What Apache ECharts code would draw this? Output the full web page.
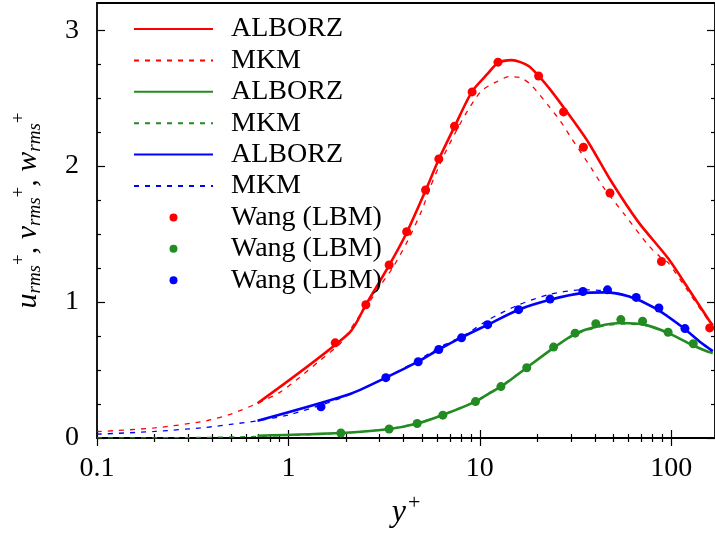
<!DOCTYPE html>
<html><head><meta charset="utf-8">
<script src="https://cdn.jsdelivr.net/npm/echarts@6/dist/echarts.min.js"></script>
<style>html,body{margin:0;padding:0;background:#fff}#c{width:715px;height:534px}</style>
</head><body><div id="c"></div>
<script>
// ---- tick labels ----
const xTickValues = [0.1, 1, 10, 100];
const xTickLabels = ['0.1', '1', '10', '100'];
const yTickValues = [0, 1, 2, 3];
const yTickLabels = ['0', '1', '2', '3'];

// ---- ALBORZ (solid) ----
const uAlborzX = [0.69, 2.08, 2.54, 3.36, 4.15, 5.21, 6.11, 7.38, 9.12, 11.0, 12.45, 14.7, 18.0, 22.9, 29.1, 36.9, 48.9, 67.3, 96.4, 122.6, 159, 165];
const uAlborzY = [0.256, 0.773, 0.98, 1.27, 1.51, 1.82, 2.05, 2.29, 2.55, 2.68, 2.76, 2.78, 2.736, 2.578, 2.383, 2.176, 1.883, 1.590, 1.322, 1.102, 0.859, 0.83];
const vAlborzX = [0.69, 1.88, 3.36, 4.71, 6.36, 9.50, 11.1, 13.1, 17.6, 24.3, 31.5, 41.6, 55.2, 72.6, 96.4, 127.3, 155.9, 165];
const vAlborzY = [0.017, 0.037, 0.066, 0.107, 0.168, 0.268, 0.325, 0.383, 0.517, 0.663, 0.766, 0.822, 0.846, 0.834, 0.773, 0.688, 0.634, 0.625];
const wAlborzX = [0.69, 2.08, 3.23, 4.81, 6.11, 8.09, 11.1, 15.96, 23.3, 34.2, 45.0, 59.8, 82.4, 113, 143.5, 165];
const wAlborzY = [0.127, 0.322, 0.444, 0.566, 0.651, 0.742, 0.836, 0.944, 1.017, 1.066, 1.071, 1.042, 0.956, 0.822, 0.70, 0.639];

// ---- MKM (dashed) ----
const uMkmX = [0.1, 0.2, 0.37, 0.51, 0.69, 0.898, 1.14, 1.45, 1.88, 2.25, 2.70, 3.04, 3.5, 4.2, 5.0, 5.47, 6.49, 7.71, 8.95, 10.28, 12.3, 14.2, 16.3, 18.4, 22.9, 26.3, 30.3, 38.5, 44.2, 57.4, 75.9, 87.3, 96.4, 122.6, 159, 165];
const uMkmY = [0.047, 0.074, 0.126, 0.18, 0.256, 0.334, 0.444, 0.566, 0.700, 0.859, 1.017, 1.127, 1.25, 1.45, 1.68, 1.834, 2.078, 2.285, 2.443, 2.558, 2.622, 2.658, 2.651, 2.602, 2.443, 2.334, 2.2, 1.98, 1.846, 1.639, 1.419, 1.334, 1.29, 1.08, 0.85, 0.82];
const vMkmX = [0.1, 0.3, 0.69, 1.88, 3.36, 4.71, 6.36, 9.5, 13.1, 17.6, 24.3, 31.5, 41.6, 55.2, 72.6, 96.4, 127.3, 155.9, 165];
const vMkmY = [0.0005, 0.003, 0.012, 0.035, 0.068, 0.11, 0.172, 0.272, 0.39, 0.52, 0.66, 0.76, 0.815, 0.838, 0.828, 0.77, 0.688, 0.634, 0.625];
const wMkmX = [0.1, 0.2, 0.37, 0.51, 0.69, 1.0, 1.5, 2.08, 3.23, 4.81, 6.11, 8.43, 11.1, 16, 23.3, 34.2, 45, 59.8, 82.4, 113, 143.5, 165];
const wMkmY = [0.028, 0.048, 0.078, 0.102, 0.127, 0.17, 0.245, 0.318, 0.445, 0.575, 0.665, 0.761, 0.870, 0.98, 1.058, 1.09, 1.083, 1.045, 0.956, 0.82, 0.70, 0.64];

// ---- Wang (LBM) points ----
const uWangX = [1.757, 2.54, 3.36, 4.15, 5.21, 6.11, 7.38, 9.12, 12.45, 20.3, 27.4, 34.8, 47.9, 89.0, 159];
const uWangY = [0.70, 0.98, 1.273, 1.517, 1.824, 2.053, 2.293, 2.546, 2.765, 2.663, 2.399, 2.139, 1.802, 1.298, 0.81];
const vWangX = [1.88, 3.36, 4.71, 6.41, 9.50, 12.9, 17.6, 24.3, 31.5, 40.4, 54.6, 70.9, 96.4, 130.5];
const vWangY = [0.037, 0.066, 0.107, 0.168, 0.268, 0.378, 0.517, 0.669, 0.771, 0.841, 0.871, 0.859, 0.778, 0.693];
const wWangX = [1.48, 3.23, 4.77, 6.11, 8.03, 11.0, 15.96, 23.3, 34.6, 46.5, 65.7, 86.3, 118.1];
const wWangY = [0.23, 0.444, 0.561, 0.651, 0.737, 0.834, 0.944, 1.022, 1.078, 1.09, 1.034, 0.956, 0.805];

const legendNames = ['ALBORZ', 'MKM', 'ALBORZ', 'MKM', 'ALBORZ', 'MKM', 'Wang (LBM)', 'Wang (LBM)', 'Wang (LBM)'];

// ---- styling ----
const RED = '#ff0000', GREEN = '#228b22', BLUE = '#0000ff';
const FONT = 'Liberation Serif';
const XMIN = 0.1, XMAX = 169.5, YMIN = 0, YMAX = 3.2;

const zip = (xs, ys) => xs.map((x, i) => [x, ys[i]]);
const xMinor = [];
[0.1, 1, 10, 100].forEach(d => { for (let k = 2; k <= 9; k++) { if (d * k < XMAX) xMinor.push(+(d * k).toPrecision(3)); } });
const yMinor = [];
for (let v = 0.25; v < YMAX; v += 0.25) { if (Math.abs(v - Math.round(v)) > 1e-6) yMinor.push(+v.toFixed(2)); }

// unique names for legend (zero-width suffix)
const uniq = legendNames.map((n, i) => n + '\u200b'.repeat(i));

function xAxisDef(pos, values, len, labels) {
  return {
    type: 'log', logBase: 10, min: XMIN, max: XMAX, position: pos, gridIndex: 0,
    axisLine: { show: false },
    splitLine: { show: false },
    minorTick: { show: false },
    axisTick: { show: true, inside: true, length: len, customValues: values, lineStyle: { color: '#000', width: 1.2 } },
    axisLabel: labels ? {
      show: true, customValues: xTickValues, margin: 17, color: '#000', fontFamily: FONT, fontSize: 28,
      formatter: v => { let best = 0; xTickValues.forEach((t, i) => { if (Math.abs(Math.log10(t) - Math.log10(v)) < Math.abs(Math.log10(xTickValues[best]) - Math.log10(v))) best = i; }); return xTickLabels[best]; }
    } : { show: false }
  };
}
function yAxisDef(pos, values, len, labels) {
  return {
    type: 'value', min: YMIN, max: YMAX, position: pos, gridIndex: 0,
    axisLine: { show: false },
    splitLine: { show: false },
    axisTick: { show: true, inside: true, length: len, customValues: values, lineStyle: { color: '#000', width: 1.2 } },
    axisLabel: labels ? {
      show: true, customValues: yTickValues, margin: 18, color: '#000', fontFamily: FONT, fontSize: 28,
      formatter: v => yTickLabels[yTickValues.indexOf(Math.round(v))]
    } : { show: false }
  };
}

const xa = [xAxisDef('bottom', xTickValues, 8, true), xAxisDef('bottom', xMinor, 4, false), xAxisDef('top', xTickValues, 8, false), xAxisDef('top', xMinor, 4, false)];
xa[0].name = '{i|y}{s|+}';
xa[0].nameLocation = 'middle';
xa[0].nameGap = 54;
xa[0].nameTextStyle = { rich: {
  i: { fontFamily: FONT, fontStyle: 'italic', fontSize: 32, color: '#000' },
  s: { fontFamily: FONT, fontSize: 22, color: '#000', padding: [0, 0, 20, 2] }
} };
const ya = [yAxisDef('left', yTickValues, 8, true), yAxisDef('left', yMinor, 4, false), yAxisDef('right', yTickValues, 8, false), yAxisDef('right', yMinor, 4, false)];
ya[0].name = '{i|u}{b|rms}{s|+}{n|, }{i|v}{b|rms}{s|+}{n|, }{i|w}{b|rms}{s|+}';
ya[0].nameLocation = 'middle';
ya[0].nameRotate = 90;
ya[0].nameGap = 50;
ya[0].nameTextStyle = { padding: [0, 0, 0, 20], rich: {
  i: { fontFamily: FONT, fontStyle: 'italic', fontSize: 30, color: '#000' },
  b: { fontFamily: FONT, fontStyle: 'italic', fontSize: 19, color: '#000', padding: [12, 0, 0, 0] },
  s: { fontFamily: FONT, fontSize: 19, color: '#000', padding: [0, 0, 18, 0] },
  n: { fontFamily: FONT, fontStyle: 'italic', fontSize: 30, color: '#000' }
} };

function lineSeries(name, xs, ys, color, dashed) {
  return {
    name, type: 'line', data: zip(xs, ys), xAxisIndex: 0, yAxisIndex: 0,
    symbol: 'none', showSymbol: false, smooth: 0.25, clip: true, z: dashed ? 2 : 3,
    lineStyle: dashed ? { color, width: 1.3, type: [5, 6] } : { color, width: 2.6 },
    itemStyle: { color }
  };
}
function dotSeries(name, xs, ys, color) {
  return {
    name, type: 'scatter', data: zip(xs, ys), xAxisIndex: 0, yAxisIndex: 0,
    symbol: 'circle', symbolSize: 9, clip: false, z: 4,
    itemStyle: { color, opacity: 1 }
  };
}

const series = [
  lineSeries(uniq[0], uAlborzX, uAlborzY, RED, false),
  lineSeries(uniq[1], uMkmX, uMkmY, RED, true),
  lineSeries(uniq[2], vAlborzX, vAlborzY, GREEN, false),
  lineSeries(uniq[3], vMkmX, vMkmY, GREEN, true),
  lineSeries(uniq[4], wAlborzX, wAlborzY, BLUE, false),
  lineSeries(uniq[5], wMkmX, wMkmY, BLUE, true),
  dotSeries(uniq[6], uWangX, uWangY, RED),
  dotSeries(uniq[7], vWangX, vWangY, GREEN),
  dotSeries(uniq[8], wWangX, wWangY, BLUE)
];

const legendData = uniq.map((n, i) => i < 6 ? { name: n, itemStyle: { opacity: 0, color: 'rgba(0,0,0,0)', borderWidth: 0 } } : { name: n });

const chart = echarts.init(document.getElementById('c'), null, { renderer: 'canvas' });
chart.setOption({
  animation: false,
  backgroundColor: '#fff',
  grid: { left: 97, top: 3, width: 620, height: 437.7, show: true, borderColor: '#000', borderWidth: 1.8, backgroundColor: 'transparent' },
  xAxis: xa,
  yAxis: ya,
  legend: {
    orient: 'vertical', left: 133, top: 15, padding: 0, itemWidth: 79, itemHeight: 8, itemGap: 3.4,
    textStyle: { fontFamily: FONT, fontSize: 28, lineHeight: 28, color: '#000', padding: [0, 0, 0, 13] },
    formatter: n => n.replace(/\u200b/g, ''),
    data: legendData,
    selectedMode: false
  },
  series
});
</script>
</body></html>
